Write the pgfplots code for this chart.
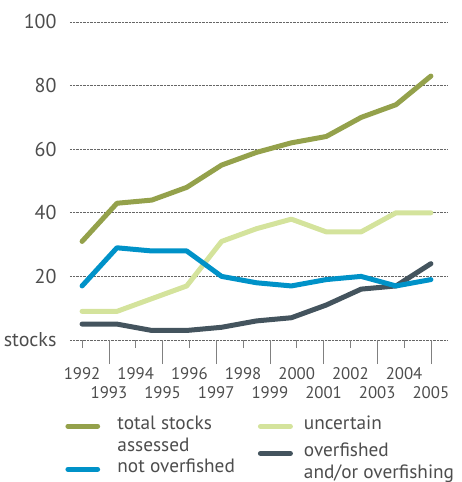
\documentclass[border=0pt]{standalone}
\usepackage{pgfplots}
\pgfplotsset{compat=1.18}
\usepackage{pgfplotstable}
\usepackage{fontspec}
\setmainfont{PT Sans}
\definecolor{total}{RGB}{148,161,75}
\definecolor{uncert}{RGB}{212,227,156}
\definecolor{notover}{RGB}{0,146,200}
\definecolor{over}{RGB}{68,84,94}
\definecolor{txt}{RGB}{77,77,77}

\pgfplotstableread{
x      total uncert notover over
1992   31    9      17      5
1993.3 43    9      29      5
1994.6 44    13     28      3
1995.9 48    17     28      3
1997.2 55    31     20      4
1998.5 59    35     18      6
1999.8 62    38     17      7
2001.1 64    34     19      11
2002.4 70    34     20      16
2003.7 74    40     17      17
2005   83    40     19      24
}\stocks

\pgfplotsset{
  base/.style={
    scale only axis, width=377pt, height=318pt,
    xmin=1991.55, xmax=2005.6, ymin=0, ymax=100,
  },
  legbox/.style={
    legend style={draw=none, fill=none, anchor=north west, #1,
      font=\fontsize{19.3}{22}\selectfont,
      nodes={align=left, text=txt}},
    legend cell align=left,
  },
}

\begin{document}
\begin{tikzpicture}
\path[use as bounding box] (-70pt,-142pt) rectangle (392pt,340pt);
\begin{axis}[
  base,
  axis x line=bottom, axis y line=left,
  axis line style={draw=none},
  ytick={0,20,40,60,80,100},
  yticklabels={stocks,20,40,60,80,100},
  ytick style={draw=none},
  yticklabel style={xshift=-2pt, text=txt, font=\fontsize{20}{22}\selectfont},
  ymajorgrids,
  grid style={densely dotted, line width=0.7pt, black!60},
  xtick={1992,1994,...,2004},
  xticklabels={1992,1994,1996,1998,2000,2002,2004},
  extra x ticks={1993,1995,...,2005},
  extra x tick labels={1993,1995,1997,1999,2001,2003,2005},
  extra x tick style={major tick length=24pt,
    xticklabel style={yshift=-3pt}, grid=none},
  tick align=outside,
  major tick length=8pt,
  xtick style={black!50, line width=0.8pt},
  xticklabel style={text=txt, yshift=-16pt, font=\fontsize{16.8}{19}\selectfont},
  /pgf/number format/assume math mode=true,
  legbox={at={(-0.0206,-0.225)}, row sep=2pt},
  legend image code/.code={
    \path[draw=none] (0pt,0pt) -- (50pt,0pt);
    \draw[#1, line width=5pt, line cap=round] (2.5pt,-3pt) -- (32.2pt,-3pt);},
]
\addplot[uncert, line width=5pt, line cap=round, line join=round, forget plot] table[x=x, y=uncert] {\stocks};
\addplot[over, line width=5pt, line cap=round, line join=round, forget plot] table[x=x, y=over] {\stocks};
\addplot[notover, line width=5pt, line cap=round, line join=round, forget plot] table[x=x, y=notover] {\stocks};
\addplot[total, line width=5pt, line cap=round, line join=round, forget plot] table[x=x, y=total] {\stocks};
\addlegendimage{total, yshift=11pt}
\addlegendentry{total stocks\\assessed}
\addlegendimage{notover}
\addlegendentry{not overfished}
\end{axis}
\begin{axis}[
  base, hide axis,
  legbox={at={(0.49,-0.225)}, row sep=8pt},
  legend image code/.code={
    \path[draw=none] (0pt,0pt) -- (44pt,0pt);
    \draw[#1, line width=5pt, line cap=round] (2.5pt,-3pt) -- (32.5pt,-3pt);},
]
\addlegendimage{uncert}
\addlegendentry{uncertain}
\addlegendimage{over, yshift=11pt}
\addlegendentry{overfished\\and/or overfishing}
\end{axis}
\end{tikzpicture}
\end{document}
